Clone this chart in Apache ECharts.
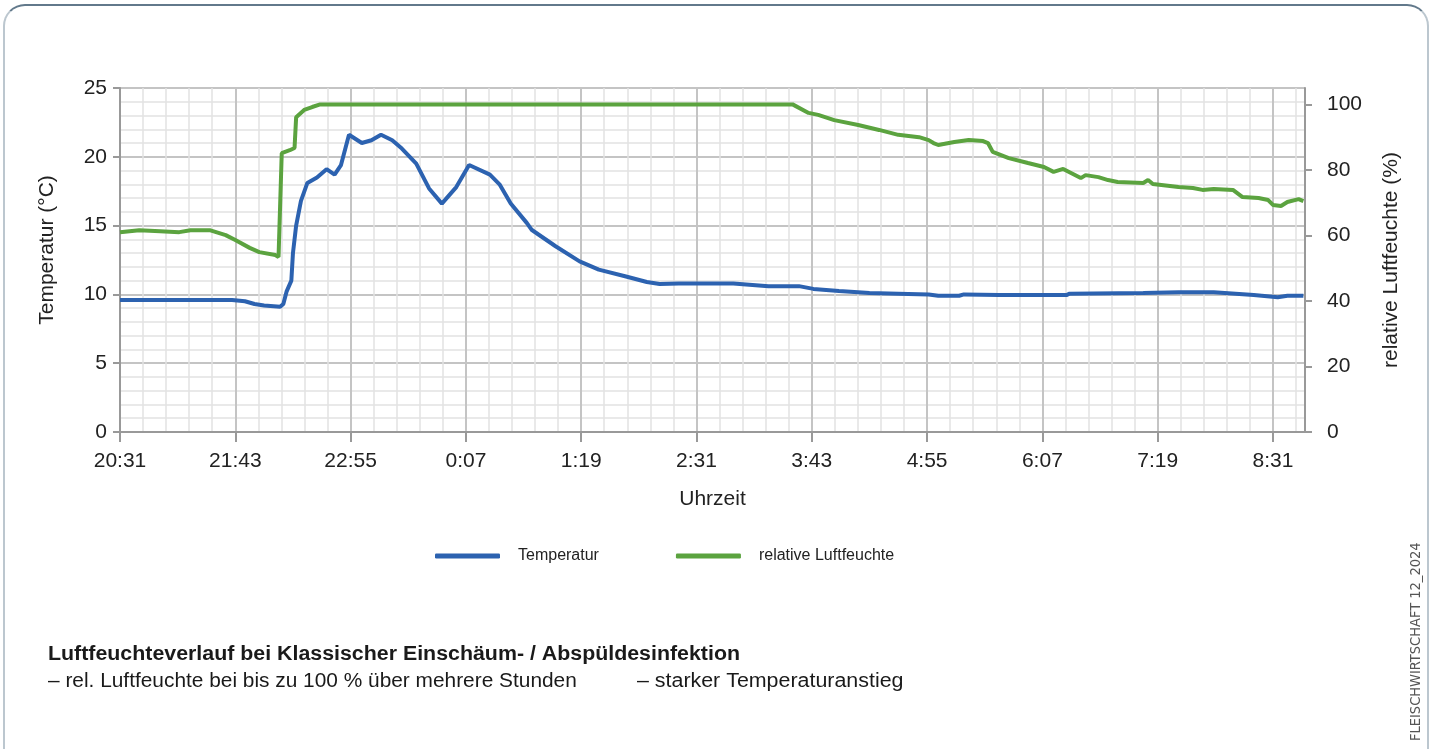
<!DOCTYPE html>
<html>
<head>
<meta charset="utf-8">
<script src="https://cdn.jsdelivr.net/npm/echarts@6/dist/echarts.min.js"></script>
<style>
  html, body { margin: 0; padding: 0; background: #fff; overflow: hidden; }
  .frame {
    position: absolute; left: 3px; top: 4px; width: 1422px; height: 900px;
    border: 2px solid #bcc7cf; border-top-color: #62798b; border-radius: 22px;
  }
  #chart { position: absolute; left: 0; top: 0; width: 1434px; height: 749px; }
</style>
</head>
<body>
<div class="frame"></div>
<div id="chart"></div>
<script>
// minutes since 20:31
const tempTime = [0, 70, 78, 84, 90, 100, 102, 104, 107, 108, 110, 113, 117, 123, 129, 134, 138, 143, 151, 157,
  163, 170, 176, 185, 193, 201, 210, 218, 231, 237, 244, 254, 257, 272, 287, 299, 316, 329, 337, 349,
  383, 405, 424, 433, 449, 468, 486, 505, 511, 524, 527, 549, 591, 593, 639, 661, 683, 708, 723, 729, 739]
const tempValues = [9.6, 9.6, 9.5, 9.3, 9.2, 9.1, 9.3, 10.2, 11.0, 13.0, 15.0, 16.8, 18.1, 18.5, 19.1, 18.7, 19.4, 21.6, 21.0, 21.2,
  21.6, 21.2, 20.6, 19.5, 17.7, 16.6, 17.8, 19.4, 18.7, 18.0, 16.6, 15.2, 14.7, 13.5, 12.4, 11.8, 11.3, 10.9, 10.75, 10.8,
  10.8, 10.6, 10.6, 10.4, 10.25, 10.1, 10.05, 10.0, 9.9, 9.9, 10.0, 9.95, 9.95, 10.05, 10.1, 10.15, 10.15, 9.95, 9.8, 9.9, 9.9]

const humTime = [0, 12, 25, 37, 44, 56, 66, 72, 81, 87, 97, 99, 101, 106, 109, 110, 115, 120, 125,
  420, 430, 436, 446, 461, 474, 486, 499, 505, 508, 511, 521, 530, 539, 542, 545, 555, 567, 577, 583,
  589, 600, 603, 611, 617, 623, 639, 642, 645, 661, 670, 676, 683, 695, 701, 711, 717, 720, 725, 729, 736, 739]
const humValues = [61.0, 61.6, 61.3, 61.0, 61.6, 61.6, 60.1, 58.6, 56.2, 54.9, 54.0, 53.4, 85.1, 86.0, 86.7, 96.1, 98.3, 99.2, 100,
  100, 97.4, 96.8, 95.2, 93.7, 92.2, 90.7, 90.0, 89.1, 88.2, 87.6, 88.5, 89.1, 88.8, 88.2, 85.5, 83.6, 82.1, 80.9, 79.4,
  80.3, 77.5, 78.4, 77.8, 76.9, 76.3, 76.0, 76.9, 75.7, 74.8, 74.5, 73.9, 74.2, 73.9, 71.7, 71.4, 70.8, 69.3, 69.0, 70.2, 71.1, 70.5]

const seriesNames = ['Temperatur', 'relative Luftfeuchte']
const startMinutes = 20 * 60 + 31

const FONT = '"Liberation Sans", Arial, sans-serif'

function timeLabel(v) {
  const t = (startMinutes + Math.round(v)) % 1440
  const m = t % 60
  return Math.floor(t / 60) + ':' + (m < 10 ? '0' + m : m)
}

const chart = echarts.init(document.getElementById('chart'))

chart.setOption({
  backgroundColor: 'transparent',
  textStyle: { fontFamily: FONT },
  grid: { left: 120, right: 129, top: 88, bottom: 317 },
  legend: {
    data: seriesNames,
    left: 430,
    top: 543,
    icon: 'roundRect',
    itemWidth: 65,
    itemHeight: 5,
    itemGap: 77,
    textStyle: { fontSize: 16, color: '#222', padding: [0, 0, 0, 13] },
  },
  xAxis: [
    {
      type: 'value',
      min: 0,
      max: 740,
      interval: 72,
      name: 'Uhrzeit',
      nameLocation: 'middle',
      nameGap: 57,
      nameTextStyle: { fontSize: 21, color: '#222' },
      axisLine: { show: true, onZero: false, lineStyle: { color: '#999', width: 2 } },
      axisTick: { show: true, length: 10, lineStyle: { color: '#999', width: 2 } },
      axisLabel: { fontSize: 21, color: '#222', margin: 19, showMaxLabel: false, formatter: timeLabel },
      splitLine: { show: true, lineStyle: { color: '#c4c4c4', width: 2 } },
    },
    {
      type: 'value',
      min: 0,
      max: 740,
      interval: 14.4,
      position: 'bottom',
      axisLine: { show: false, onZero: false },
      axisTick: { show: false },
      axisLabel: { show: false },
      splitLine: {
        show: true,
        lineStyle: { color: ['rgba(0,0,0,0)', '#e2e2e2', '#e2e2e2', '#e2e2e2', '#e2e2e2'], width: 1.5 },
      },
    },
  ],
  yAxis: [
    {
      type: 'value',
      min: 0,
      max: 25,
      interval: 5,
      name: 'Temperatur (°C)',
      nameLocation: 'middle',
      nameGap: 62,
      nameTextStyle: { fontSize: 21, color: '#222', padding: [0, 0, 0, 20] },
      axisLine: { show: true, onZero: false, lineStyle: { color: '#999', width: 2 } },
      axisTick: { show: true, length: 7, lineStyle: { color: '#999', width: 2 } },
      axisLabel: { fontSize: 21, color: '#222', margin: 13 },
      splitLine: { show: true, lineStyle: { color: '#c4c4c4', width: 2 } },
      minorTick: { show: false, splitNumber: 5 },
      minorSplitLine: { show: true, lineStyle: { color: '#e2e2e2', width: 1.5 } },
    },
    {
      type: 'value',
      min: 0,
      max: 105,
      interval: 20,
      position: 'right',
      name: 'relative Luftfeuchte (%)',
      nameLocation: 'middle',
      nameGap: 76,
      nameRotate: 90,
      nameTextStyle: { fontSize: 21, color: '#222' },
      axisLine: { show: true, onZero: false, lineStyle: { color: '#999', width: 2 } },
      axisTick: { show: true, length: 7, lineStyle: { color: '#999', width: 2 } },
      axisLabel: { fontSize: 21, color: '#222', margin: 22, showMaxLabel: false },
      splitLine: { show: false },
    },
  ],
  series: [
    {
      name: seriesNames[0],
      type: 'line',
      xAxisIndex: 0,
      yAxisIndex: 0,
      data: tempTime.map((t, i) => [t, tempValues[i]]),
      showSymbol: false,
      lineStyle: { color: '#2c62b0', width: 4 },
      itemStyle: { color: '#2c62b0' },
      z: 3,
    },
    {
      name: seriesNames[1],
      type: 'line',
      xAxisIndex: 0,
      yAxisIndex: 1,
      data: humTime.map((t, i) => [t, humValues[i]]),
      showSymbol: false,
      lineStyle: { color: '#5ba33f', width: 4 },
      itemStyle: { color: '#5ba33f' },
      z: 2,
    },
  ],
  graphic: [
    {
      type: 'text',
      x: 48,
      y: 644,
      scaleX: 1.068,
      style: {
        text: 'Luftfeuchteverlauf bei Klassischer Einschäum- / Abspüldesinfektion',
        font: 'bold 20px ' + FONT,
        fill: '#1a1a1a',
        verticalAlign: 'top',
      },
    },
    {
      type: 'text',
      x: 48,
      y: 671,
      scaleX: 1.043,
      style: {
        text: '– rel. Luftfeuchte bei bis zu 100 % über mehrere Stunden',
        font: '20px ' + FONT,
        fill: '#1a1a1a',
        verticalAlign: 'top',
      },
    },
    {
      type: 'text',
      x: 637,
      y: 671,
      scaleX: 1.07,
      style: {
        text: '– starker Temperaturanstieg',
        font: '20px ' + FONT,
        fill: '#1a1a1a',
        verticalAlign: 'top',
      },
    },
    {
      type: 'text',
      x: 1409,
      y: 741,
      rotation: Math.PI / 2,
      style: {
        text: 'FLEISCHWIRTSCHAFT 12_2024',
        font: '14.5px "DejaVu Sans Condensed", ' + FONT,
        fill: '#555',
      },
    },
  ],
})
</script>
</body>
</html>
